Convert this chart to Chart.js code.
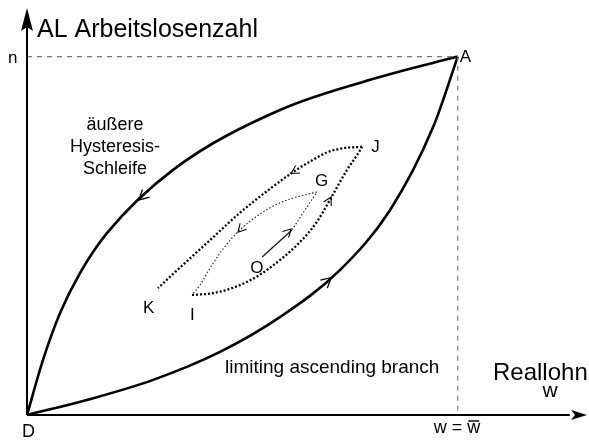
<!DOCTYPE html>
<html>
<head>
<meta charset="utf-8">
<script src="https://cdn.jsdelivr.net/npm/chart.js@4"></script>
<style>
  html,body{margin:0;padding:0;background:#fff;}
  #wrap{width:589px;height:443px;}
</style>
</head>
<body>
<div id="wrap"><canvas id="hyst" width="589" height="443"></canvas></div>
<script>
// ===== Daten (x: Reallohn w, w̄ = 100 / y: Arbeitslosenzahl, n = 100) =====
const wBar = 100;
const nMax = 100;

// äußere Schleife, oberer (absteigender) Ast D -> A
const outerUpper = [[0,0],[3.7,15.3],[7.7,28.5],[12.3,39.6],[18.6,50.8],[33.9,68.4],[58.7,85.1],[81.9,94.3],[100,100]];
// limiting ascending branch D -> A
const outerLower = [[0,0],[13.9,4.2],[29.3,9.8],[44.8,17.6],[58.7,27.3],[72.7,40.5],[84.3,57.2],[94.3,80.4],[100,100]];

// innere Schleifen
const loopJK = [[77.8,74.8],[73.8,74.5],[69.9,73.4],[66.2,71.1],[61.8,67.8],[56.4,63.1],[49.4,56.4],[42.5,48.8],[36.2,41.9],[30.4,35.4]];
const loopIJ = [[38.3,33.5],[43.2,34.0],[48.3,35.7],[53.6,38.8],[58.7,43.2],[63.4,48.3],[67.3,53.9],[70.3,60.0],[74.3,68.4],[76.6,72.5],[77.8,74.8]];
const loopGI = [[67.3,62.2],[63.4,61.1],[58.7,59.2],[54.1,56.1],[49.4,51.6],[45.5,46.3],[42.5,41.0],[40.2,36.3],[38.3,33.5]];
const pathOG = [[54.6,44.1],[61.5,51.6]];
const pathGtail = [[61.5,51.6],[64.1,56.4],[67.3,62.2]];

// Richtungspfeile: [Spitze, Herkunft]
const arrowsOuter = [[[26.0,60.0],[27.6,61.8]],[[70.6,38.3],[68.8,36.4]]];
const arrowsInner = [[[61.3,67.4],[63.1,68.7]],[[70.6,60.8],[69.8,59.0]],[[49.0,51.0],[50.4,52.9]],[[61.3,51.9],[59.9,50.2]]];

// Punktbezeichnungen
const pointNames = ["A","D","J","G","K","I","O"];
const pointPos = [[100,100],[0,0],[77.8,74.8],[67.3,62.2],[30.4,35.4],[38.3,33.5],[54.6,44.1]];

const FONT = "'Liberation Sans', Arial, sans-serif";
const pts = a => a.map(p=>({x:p[0],y:p[1]}));

function lineDs(data, width, dash, color, smooth){
  return {data:pts(data), showLine:true, pointRadius:0, borderColor:color||"#000",
    borderWidth:width, borderDash:dash||[], clip:false, borderCapStyle:"butt", fill:false,
    tension: smooth===false ? 0 : 0.4,
    cubicInterpolationMode: smooth===false ? "default" : "monotone"};
}

// Zusatz: Achsen, Pfeile, Texte
const diagram = {
  id:"diagram",
  afterDatasetsDraw(chart){
    const c = chart.ctx, xs = chart.scales.x, ys = chart.scales.y;
    const px = v=>xs.getPixelForValue(v), py = v=>ys.getPixelForValue(v);
    const x0 = px(0), y0 = py(0);
    c.save();
    // Achsen
    c.strokeStyle="#000"; c.fillStyle="#000"; c.lineWidth=2; c.setLineDash([]);
    c.beginPath(); c.moveTo(x0,y0); c.lineTo(px(126),y0); c.stroke();
    c.beginPath(); c.moveTo(x0,y0); c.lineTo(x0,py(109)); c.stroke();
    const xe = px(130);
    c.beginPath(); c.moveTo(xe,y0); c.lineTo(xe-16,y0-5); c.lineTo(xe-12,y0); c.lineTo(xe-16,y0+5); c.closePath(); c.fill();
    const ye = py(113)-2;
    c.beginPath(); c.moveTo(x0,ye); c.lineTo(x0-6,ye+23); c.lineTo(x0,ye+19); c.lineTo(x0+6,ye+23); c.closePath(); c.fill();

    // Richtungspfeile
    function chevron(tip, from, len, lw){
      const tx=px(tip[0]), ty=py(tip[1]), fx=px(from[0]), fy=py(from[1]);
      const a = Math.atan2(ty-fy, tx-fx), h = 0.5;
      c.lineWidth=lw;
      c.beginPath();
      c.moveTo(tx-len*Math.cos(a-h), ty-len*Math.sin(a-h));
      c.lineTo(tx,ty);
      c.lineTo(tx-len*Math.cos(a+h), ty-len*Math.sin(a+h));
      c.stroke();
    }
    arrowsOuter.forEach(a=>chevron(a[0],a[1],11,1.3));
    arrowsInner.forEach(a=>chevron(a[0],a[1],9,1.1));

    // Texte
    c.fillStyle="#000"; c.textBaseline="alphabetic";
    const txt=(s,x,y,size,align)=>{ c.font=size+"px "+FONT; c.textAlign=align||"left"; c.fillText(s,x,y); };
    txt("AL Arbeitslosenzahl", x0+10, 37, 25);
    txt("n", 8, py(nMax)+6, 17);
    const off = {A:[2,5],D:[-5,22],J:[9,5],G:[-2,-6],K:[-15,25],I:[-2,25],O:[-12,16]};
    pointNames.forEach((s,i)=>{
      const o=off[s]; txt(s, px(pointPos[i][0])+o[0], py(pointPos[i][1])+o[1], s==="D"?18:17);
    });
    txt("äußere",115,130,18,"center");
    txt("Hysteresis-",115,152,18,"center");
    txt("Schleife",115,174,18,"center");
    txt("limiting ascending branch",225,373,19);
    txt("Reallohn",493,380,24);
    txt("w",550,397,21,"center");
    // w = w̄
    c.font="18px "+FONT; c.textAlign="left";
    const s1="w = ", xw = px(wBar)-24;
    c.fillText(s1, xw, 433);
    const w1=c.measureText(s1).width, w2=c.measureText("w").width;
    c.fillText("w", xw+w1, 433);
    c.lineWidth=1.4; c.strokeStyle="#000";
    c.beginPath(); c.moveTo(xw+w1+1,421); c.lineTo(xw+w1+w2-1,421); c.stroke();
    c.restore();
  }
};

new Chart(document.getElementById("hyst"), {
  type:"scatter",
  data:{ datasets:[
    lineDs([[0,nMax],[wBar,nMax],[wBar,0]],1.1,[5,5],"#777",false),
    lineDs(outerUpper,2.6),
    lineDs(outerLower,2.6),
    lineDs(loopJK,2.3,[2,2]),
    lineDs(loopIJ,2.3,[2,2]),
    lineDs(loopGI,1.1,[1.5,2],"#222"),
    lineDs(pathOG,1.2,[],"#111",false),
    lineDs(pathGtail,1.1,[1.5,2],"#222")
  ]},
  options:{
    responsive:false, animation:false,
    layout:{padding:{left:27,right:2,top:10,bottom:28}},
    scales:{
      x:{type:"linear",min:0,max:130,display:false},
      y:{type:"linear",min:0,max:113,display:false}
    },
    plugins:{legend:{display:false},tooltip:{enabled:false}}
  },
  plugins:[diagram]
});
</script>
</body>
</html>
